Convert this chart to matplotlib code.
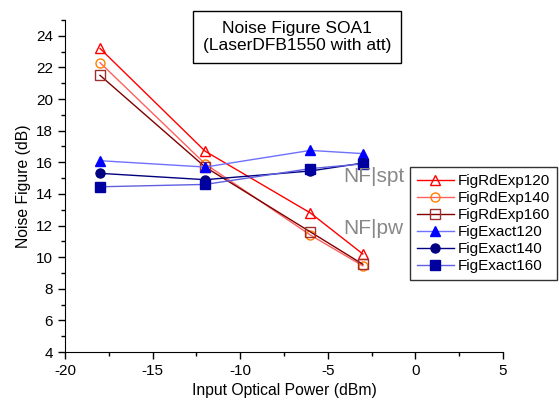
import matplotlib
matplotlib.use("Agg")
import matplotlib.pyplot as plt
from matplotlib.ticker import MultipleLocator

plt.rcParams['font.family'] = ['Liberation Sans', 'DejaVu Sans']
plt.rcParams['axes.unicode_minus'] = False

power = [-18, -12, -6, -3]
rd120 = [23.2, 16.7, 12.8, 10.2]
rd140 = [22.3, 15.9, 11.4, 9.45]
rd160 = [21.5, 15.7, 11.6, 9.55]
ex120 = [16.1, 15.7, 16.75, 16.55]
ex140 = [15.3, 14.9, 15.45, 15.95]
ex160 = [14.45, 14.6, 15.6, 15.9]

series = [
    ("FigRdExp120", rd120, "^", "#ff0000", "#ff0000", "none"),
    ("FigRdExp140", rd140, "o", "#ff6060", "#ff8000", "none"),
    ("FigRdExp160", rd160, "s", "#800000", "#a03030", "none"),
    ("FigExact120", ex120, "^", "#7070ff", "#0000ff", "#0000ff"),
    ("FigExact140", ex140, "o", "#000080", "#000080", "#000080"),
    ("FigExact160", ex160, "s", "#6060e0", "#0000a0", "#0000a0"),
]

fig = plt.figure(figsize=(5.59, 4.05), dpi=100)
ax = fig.add_axes([65/559, 53/405, 438/559, 332/405])

for name, vals, m, lc, mc, fc in series:
    ax.plot(power, vals, color=lc, lw=1.0, marker=m, markersize=6.5,
            markeredgecolor=mc, markerfacecolor=fc, markeredgewidth=1.0,
            label=name)

ax.set_xlim(-20, 5)
ax.set_ylim(4, 25)
ax.xaxis.set_major_locator(MultipleLocator(5))
ax.xaxis.set_minor_locator(MultipleLocator(2.5))
ax.yaxis.set_minor_locator(MultipleLocator(1))
ax.set_yticks(range(4, 25, 2))
ax.spines['top'].set_visible(False)
ax.spines['right'].set_visible(False)
ax.tick_params(which='both', direction='out', labelsize=11, width=1)
ax.tick_params(which='major', length=5)
ax.tick_params(which='minor', length=3)
ax.set_xlabel("Input Optical Power (dBm)", fontsize=11.3)
ax.set_ylabel("Noise Figure (dB)", fontsize=11.3, labelpad=4)

fig.text(343/559, 1 - 176/405, "NF|spt", color="#888888", fontsize=15,
         ha='left', va='center')
fig.text(343/559, 1 - 229/405, "NF|pw", color="#888888", fontsize=15,
         ha='left', va='center')

fig.text(297/559, 1 - 37/405, "Noise Figure SOA1\n(LaserDFB1550 with att)",
         ha='center', va='center', fontsize=12.5, linespacing=1.2,
         bbox=dict(boxstyle='square,pad=0.55', fc='white', ec='black', lw=1))

leg = ax.legend(loc='upper left', bbox_to_anchor=(410/559, 1 - 167/405),
                bbox_transform=fig.transFigure, fontsize=11, frameon=True,
                fancybox=False, edgecolor='black', handlelength=2.4,
                borderpad=0.45, labelspacing=0.2, handletextpad=0.3,
                borderaxespad=0)
leg.get_frame().set_linewidth(1.0)
leg.set_zorder(5)

fig.savefig("out.png", dpi=100)
